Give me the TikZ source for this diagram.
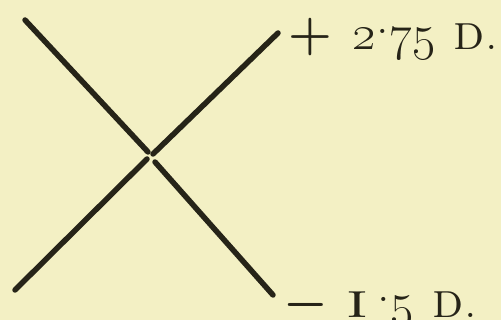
\RequirePackage{fix-cm}
\documentclass[tikz,border=0pt]{standalone}
\definecolor{paper}{HTML}{F3F0C4}
\definecolor{ink}{HTML}{262418}
\newcommand{\rdot}{\raisebox{0.75ex}{.}}
\newcommand{\wideI}{\scalebox{1.45}[1]{\textsc{i}}}
\begin{document}
\begin{tikzpicture}[x=1pt,y=-1pt,
  bar/.style={line width=5.5pt, draw=ink, line cap=round},
  lab/.style={anchor=base west, inner sep=0pt, text=ink, font=\fontsize{50}{50}\selectfont\boldmath}]
\fill[paper] (0,0) rectangle (501,320);
\useasboundingbox (0,0) rectangle (501,320);
% descending bar
\coordinate (d1) at (25,20);
\coordinate (d2) at (148,152);
\coordinate (d3) at (155,162);
\coordinate (d4) at (273,295);
% ascending bar
\coordinate (a1) at (15,290);
\coordinate (a2) at (147,159);
\coordinate (a3) at (153,154);
\coordinate (a4) at (278,33);
\draw[bar] (d1) -- (d2);
\draw[bar] (d3) -- (d4);
\draw[bar] (a1) -- (a2);
\draw[bar] (a3) -- (a4);
\node[lab] (plus) at (288,50) {$+$\hspace{21pt}\oldstylenums{2}\rdot\oldstylenums{75}\hspace{18pt}\textsc{d}.};
\node[lab] (minus) at (283,318) {$-$\hspace{19pt}\wideI\hspace{9pt}\rdot\oldstylenums{5}\hspace{19pt}\textsc{d}.};
\end{tikzpicture}
\end{document}
